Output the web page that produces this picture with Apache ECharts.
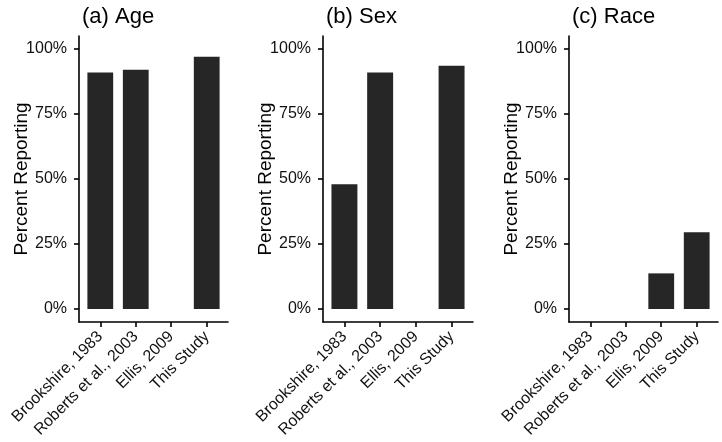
<!DOCTYPE html>
<html>
<head>
<meta charset="utf-8">
<script src="https://cdn.jsdelivr.net/npm/echarts@6/dist/echarts.min.js"></script>
<style>
  html, body { margin: 0; padding: 0; background: #ffffff; }
  #chart { width: 722px; height: 442px; }
</style>
</head>
<body>
<div id="chart"></div>
<script>
// ---- data ----
const categories = ['Brookshire, 1983', 'Roberts et al., 2003', 'Ellis, 2009', 'This Study'];
const panelTitles = ['(a) Age', '(b) Sex', '(c) Race'];
const ageValues  = [91, 92, null, 97];
const sexValues  = [48, 91, null, 93.6];
const raceValues = [null, null, 13.7, 29.5];
const yTicks = [0, 25, 50, 75, 100];
const yAxisName = 'Percent Reporting';

// ---- layout ----
const FONT = '"Liberation Sans", Arial, Helvetica, sans-serif';
const panels = [
  { left: 79,  width: 149, values: ageValues },
  { left: 323, width: 150, values: sexValues },
  { left: 569, width: 149, values: raceValues }
];
const gridTop = 36, gridBottom = 322;
const catPositions = categories.map((c, i) => i + 1);

const chart = echarts.init(document.getElementById('chart'), null, { renderer: 'canvas' });

const option = {
  backgroundColor: '#ffffff',
  animation: false,
  title: panels.map((p, i) => ({
    text: panelTitles[i],
    left: p.left - 2,
    top: 1,
    textStyle: { fontFamily: FONT, fontSize: 22, fontWeight: 'normal', color: '#000' }
  })),
  grid: panels.map(p => ({
    left: p.left, width: p.width, top: gridTop, height: gridBottom - gridTop,
    containLabel: false
  })),
  xAxis: panels.map((p, i) => ({
    type: 'value',
    gridIndex: i,
    min: 0.4,
    max: categories.length + 0.6,
    splitLine: { show: false },
    axisLine: { show: true, onZero: false, lineStyle: { color: '#000', width: 1.6 } },
    axisTick: { show: true, length: 5, customValues: catPositions, lineStyle: { color: '#000', width: 1.6 } },
    axisLabel: {
      show: true,
      customValues: catPositions,
      rotate: 45,
      margin: 12,
      fontFamily: FONT,
      fontSize: 16,
      color: '#111',
      formatter: v => categories[Math.round(v) - 1] || ''
    }
  })),
  yAxis: panels.map((p, i) => ({
    type: 'value',
    gridIndex: i,
    min: -5,
    max: 105,
    splitLine: { show: false },
    name: yAxisName,
    nameLocation: 'middle',
    nameRotate: 90,
    nameGap: 48,
    nameMoveOverlap: false,
    nameTextStyle: { fontFamily: FONT, fontSize: 19, color: '#000' },
    axisLine: { show: true, onZero: false, lineStyle: { color: '#000', width: 1.6 } },
    axisTick: { show: true, length: 5, customValues: yTicks, lineStyle: { color: '#000', width: 1.6 } },
    axisLabel: {
      show: true,
      customValues: yTicks,
      margin: 12,
      fontFamily: FONT,
      fontSize: 16,
      color: '#111',
      formatter: v => v + '%'
    }
  })),
  series: panels.map((p, i) => ({
    type: 'bar',
    xAxisIndex: i,
    yAxisIndex: i,
    barWidth: p.width / (categories.length + 1.2) * 0.9,
    itemStyle: { color: '#262626' },
    data: p.values
      .map((v, k) => (v === null ? null : [catPositions[k], v]))
      .filter(d => d !== null)
  }))
};

chart.setOption(option);
</script>
</body>
</html>
